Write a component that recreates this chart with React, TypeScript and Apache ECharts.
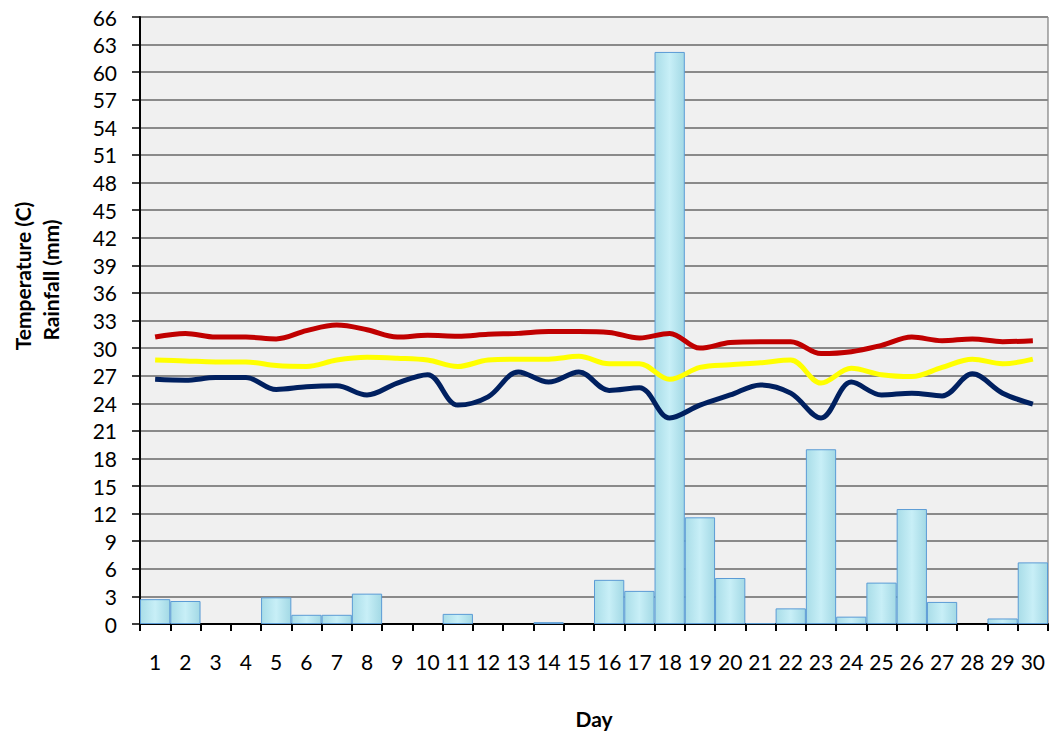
import React, { useEffect, useRef } from "react";
import * as echarts from "echarts";

const days = Array.from({ length: 30 }, (_, i) => String(i + 1));
const rainfall = [2.7, 2.5, 0, 0, 2.9, 1.0, 1.0, 3.3, 0, 0, 1.1, 0, 0, 0.2, 0, 4.8, 3.6, 62.2, 11.6, 5.0, 0.1, 1.7, 19.0, 0.8, 4.5, 12.5, 2.4, 0, 0.6, 6.7];
const maxTemp = [31.2, 31.6, 31.2, 31.2, 31.0, 31.9, 32.5, 32.0, 31.2, 31.4, 31.3, 31.5, 31.6, 31.8, 31.8, 31.7, 31.1, 31.6, 30.0, 30.6, 30.7, 30.7, 29.4, 29.6, 30.3, 31.2, 30.8, 31.0, 30.7, 30.8];
const avgTemp = [28.7, 28.6, 28.5, 28.5, 28.1, 28.0, 28.7, 29.0, 28.9, 28.7, 28.0, 28.7, 28.8, 28.8, 29.1, 28.3, 28.3, 26.6, 27.9, 28.2, 28.4, 28.7, 26.2, 27.8, 27.1, 26.9, 27.9, 28.8, 28.3, 28.8];
const minTemp = [26.6, 26.5, 26.8, 26.8, 25.5, 25.8, 25.9, 24.9, 26.2, 27.1, 23.8, 24.7, 27.4, 26.3, 27.4, 25.4, 25.7, 22.4, 23.8, 24.9, 26.0, 25.1, 22.4, 26.3, 24.9, 25.1, 24.8, 27.2, 25.1, 23.9];

export default function App() {
  const ref = useRef<HTMLDivElement>(null);
  useEffect(() => {
    const chart = echarts.init(ref.current!, null, { renderer: "svg" });
    const font = "Lato, 'Open Sans', sans-serif";
    chart.setOption({
      animation: false,
      grid: {
        left: 140, right: 3, top: 17, bottom: 110,
        show: true, backgroundColor: "#f0f0f0", borderColor: "#666", borderWidth: 1,
      },
      xAxis: {
        type: "category",
        data: days,
        boundaryGap: true,
        axisLine: { lineStyle: { color: "#000", width: 2 } },
        axisTick: { show: true, length: 7, lineStyle: { color: "#000", width: 2 } },
        axisLabel: { color: "#000", fontFamily: font, fontSize: 21, margin: 27, interval: 0 },
      },
      yAxis: {
        type: "value",
        min: 0, max: 66, interval: 3,
        axisLine: { show: true, lineStyle: { color: "#000", width: 2 } },
        axisTick: { show: true, length: 8, lineStyle: { color: "#000", width: 1.5 } },
        axisLabel: { color: "#000", fontFamily: font, fontSize: 21, margin: 23 },
        splitLine: { lineStyle: { color: "#8a8a8a", width: 2 } },
      },
      graphic: [
        { type: "text", x: 22, y: 276, rotation: Math.PI / 2, style: { text: "Temperature (C)", font: `bold 21px ${font}`, fill: "#000", textAlign: "center", textVerticalAlign: "middle" } },
        { type: "text", x: 50, y: 280, rotation: Math.PI / 2, style: { text: "Rainfall (mm)", font: `bold 21px ${font}`, fill: "#000", textAlign: "center", textVerticalAlign: "middle" } },
        { type: "text", x: 594, y: 718, style: { text: "Day", font: `bold 21px ${font}`, fill: "#000", textAlign: "center", textVerticalAlign: "middle" } },
      ],
      series: [
        {
          name: "Rainfall", type: "bar", data: rainfall.map((v) => (v === 0 ? "-" : v)), barCategoryGap: "0%",
          itemStyle: {
            color: new echarts.graphic.LinearGradient(0, 0, 1, 0, [
              { offset: 0, color: "#a9dde8" },
              { offset: 0.5, color: "#c8eff7" },
              { offset: 1, color: "#a3d9e5" },
            ]),
            borderColor: "#5b9bd5", borderWidth: 1,
          },
        },
        { name: "Max", type: "line", data: maxTemp, smooth: 0.35, symbol: "none", lineStyle: { color: "#c00000", width: 5 } },
        { name: "Avg", type: "line", data: avgTemp, smooth: 0.35, symbol: "none", lineStyle: { color: "#ffff00", width: 5 } },
        { name: "Min", type: "line", data: minTemp, smooth: 0.35, symbol: "none", lineStyle: { color: "#002060", width: 5 } },
      ],
    });
    return () => chart.dispose();
  }, []);
  return <div ref={ref} style={{ width: 1051, height: 734, position: "absolute", left: 0, top: 0 }} />;
}
